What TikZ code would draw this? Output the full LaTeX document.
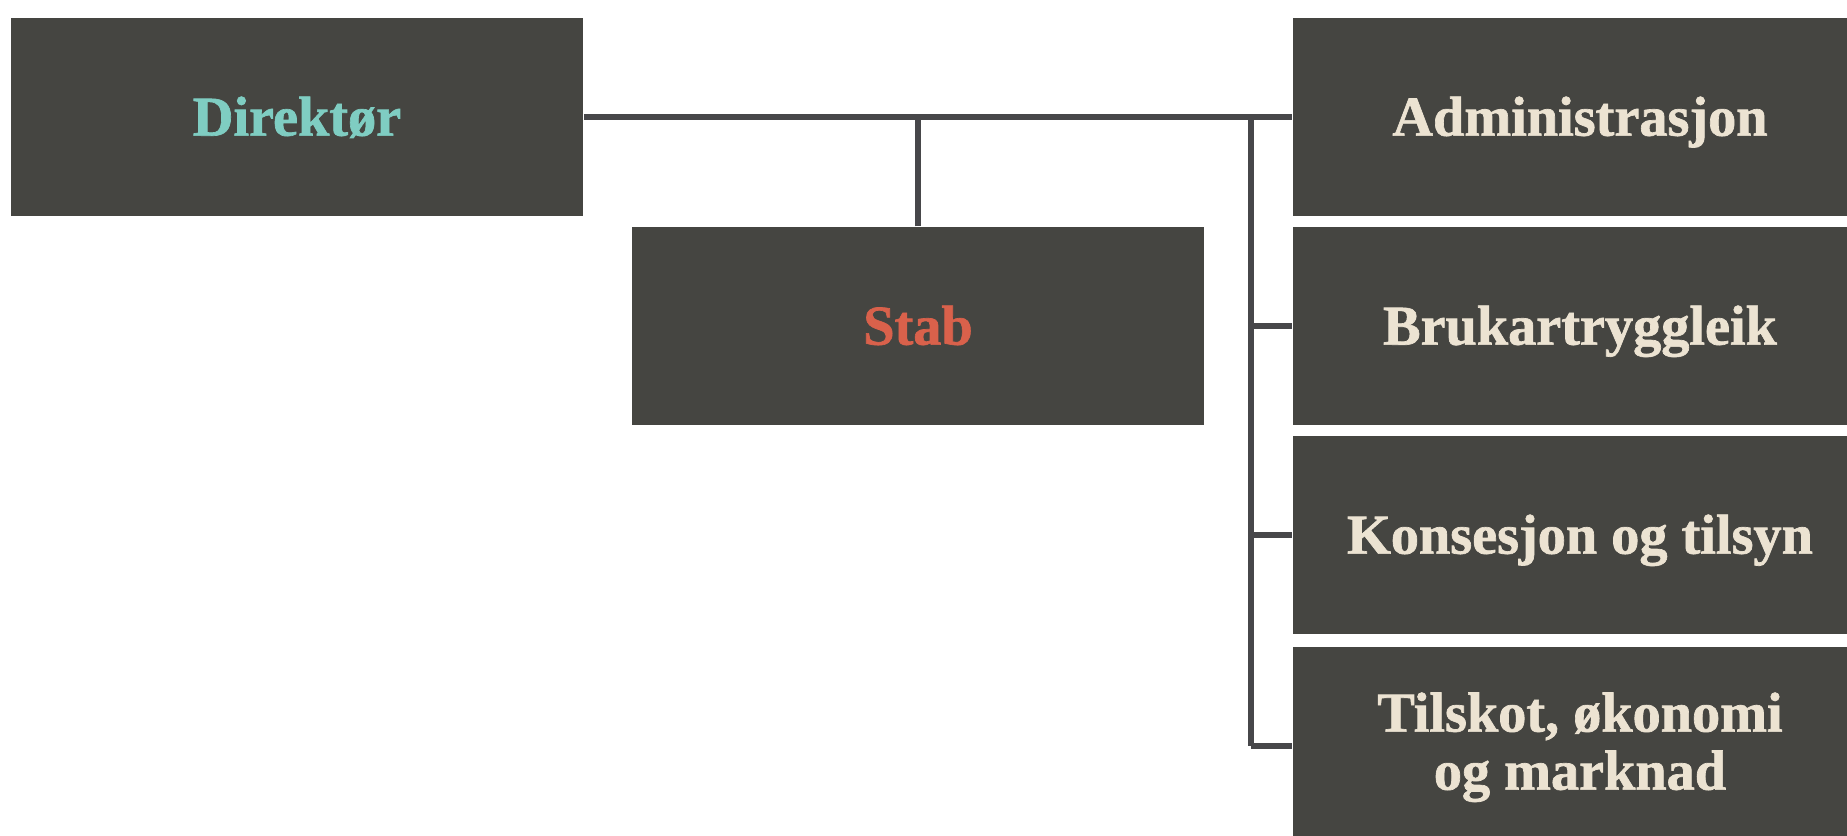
\documentclass[tikz,border=0pt]{standalone}
\usepackage{fontspec}
\setmainfont{Liberation Serif}[BoldFeatures={FakeBold=1.2}]
\usetikzlibrary{positioning}

\definecolor{boxgray}{HTML}{454541}
\definecolor{linegray}{HTML}{47474A}
\definecolor{tealtxt}{HTML}{7FCDC2}
\definecolor{redtxt}{HTML}{D9614B}
\definecolor{creamtxt}{HTML}{ECE3D2}

\tikzset{
  unitbox/.style={rectangle, fill=boxgray, inner sep=0pt, align=center,
    minimum width=5.72cm, minimum height=1.98cm,
    text height=10.6pt, text depth=0pt,
    font=\fontsize{16}{16.5}\selectfont\bfseries, text=creamtxt},
  deptbox/.style={minimum width=5.74cm},
  orgline/.style={draw=linegray, line width=1.5pt, line join=miter}
}

\begin{document}
\begin{tikzpicture}[x=0.01cm, y=-0.01cm]

      \clip (0,0) rectangle (1847,835);
      \fill[white] (0,0) rectangle (1847,835);

      \begin{scope}[every node/.style={unitbox}]
        \node (dir)   at (297,117)  [text=tealtxt] {Direktør};
        \node (stab)  at (918,326)  [text=redtxt] {Stab};
        \node (adm)   at (1580,117) [deptbox] {Administrasjon};
        \node (bruk)  at (1580,326) [deptbox] {Brukartryggleik};
        \node (kons)  at (1580,535) [deptbox] {Konsesjon og tilsyn};
        \node (tilsk) at (1580,746) [deptbox, text height=24.8pt] {Tilskot, økonomi\\og marknad};
      \end{scope}

      \coordinate (bus) at (1251,117);

      \begin{scope}[every path/.style={orgline}]
        \path (dir.east) edge (adm.west);
        \path (stab.north) edge (stab.north |- dir.east);
        \path (bus) edge (bus |- tilsk.west);
        \path (bus |- bruk.west) edge (bruk.west);
        \path (bus |- kons.west) edge (kons.west);
        \path (bus |- tilsk.west) edge (tilsk.west);
      \end{scope}

    \end{tikzpicture}
\end{document}
